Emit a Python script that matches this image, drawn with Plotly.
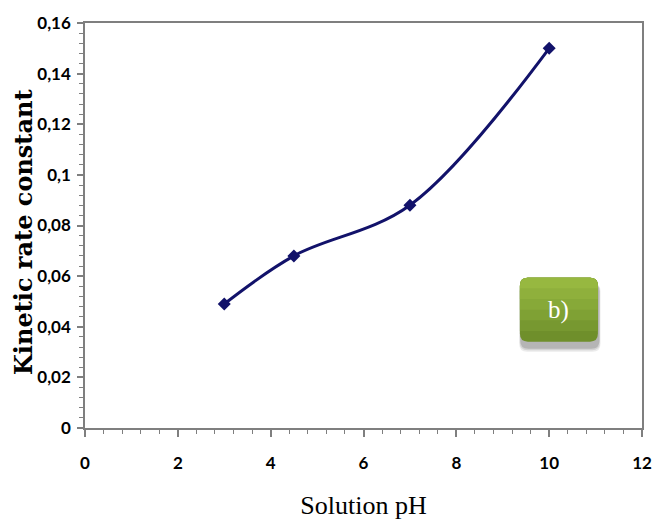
import plotly.graph_objects as go

ph = [3, 4.5, 7, 10]
k = [0.049, 0.068, 0.088, 0.150]
x_ticks = [0, 2, 4, 6, 8, 10, 12]
y_ticks = [0, 0.02, 0.04, 0.06, 0.08, 0.1, 0.12, 0.14, 0.16]
y_labels = ["0", "0,02", "0,04", "0,06", "0,08", "0,1", "0,12", "0,14", "0,16"]
x_title = "Solution pH"
y_title = "Kinetic rate constant"
label_text = "b)"

fig = go.Figure()
fig.add_trace(go.Scatter(
    x=ph, y=k, mode="lines+markers",
    line=dict(color="#12126a", width=3, shape="spline", smoothing=1.0),
    marker=dict(symbol="diamond", size=10, color="#12126a"),
    showlegend=False,
))

axis_col = "#7f7f7f"
tickfont = dict(family="Liberation Sans Narrow, Lato", size=17, color="black", weight="bold")

fig.update_xaxes(
    range=[0, 12], tickvals=x_ticks, ticktext=[str(v) for v in x_ticks],
    automargin=False,
    showgrid=False, zeroline=False, showline=True, linecolor=axis_col, linewidth=1.5,
    mirror=True, ticks="outside", ticklen=7, tickcolor=axis_col, tickwidth=1.5,
    minor=dict(dtick=0.4, ticks="outside", ticklen=4, tickcolor=axis_col, tickwidth=1),
    tickfont=tickfont, ticklabelstandoff=12,
    title=dict(text=x_title, font=dict(family="Liberation Serif", size=26, color="black"), standoff=27),
)
fig.update_yaxes(
    range=[0, 0.16], tickvals=y_ticks, ticktext=y_labels,
    automargin=False,
    showgrid=False, zeroline=False, showline=True, linecolor=axis_col, linewidth=1.5,
    mirror=True, ticks="outside", ticklen=6, tickcolor=axis_col, tickwidth=1.5,
    minor=dict(dtick=0.004, ticks="outside", ticklen=4, tickcolor=axis_col, tickwidth=1),
    tickfont=tickfont, ticklabelstandoff=3,
)
fig.add_annotation(xref="paper", yref="paper", x=(23 - 85) / 557, y=(428 - 232) / 405,
                   xanchor="center", yanchor="middle",
                   text=y_title, textangle=-90, showarrow=False,
                   font=dict(family="DejaVu Serif", size=24, color="black", weight="bold"))

def rrect(x0, y0, x1, y1, rx, ry, round_bottom=True):
    if round_bottom:
        bottom = f"L {x1},{y0+ry} Q {x1},{y0} {x1-rx},{y0} L {x0+rx},{y0} Q {x0},{y0} {x0},{y0+ry} "
    else:
        bottom = f"L {x1},{y0} L {x0},{y0} "
    return (f"M {x0},{y1-ry} Q {x0},{y1} {x0+rx},{y1} L {x1-rx},{y1} Q {x1},{y1} {x1},{y1-ry} "
            + bottom + "Z")

bx0, bx1, by0, by1 = 9.37, 11.05, 0.0341, 0.0594
rx, ry = 0.17, 0.0032
# soft shadow
for i, a in enumerate([0.08, 0.10, 0.14]):
    d = 0.0006 * (3 - i)
    fig.add_shape(type="path",
                  path=rrect(bx0 + 0.02 - d * 20, by0 - 0.0022 - d, bx1 + 0.02 + d * 20, by1 - 0.0022, rx, ry),
                  fillcolor=f"rgba(0,0,0,{a})", line=dict(width=0), layer="above")
# gradient body
cols = ["#6f8f2b", "#779830", "#7fa134", "#87a938", "#8fb03c", "#97b840"]
n = len(cols)
for i, c in enumerate(cols):
    ylow = by0 + (by1 - by0) * i / n
    fig.add_shape(type="path", path=rrect(bx0, ylow, bx1, by1, rx, ry, round_bottom=(i == 0)),
                  fillcolor=c, line=dict(width=0), layer="above")
fig.add_annotation(x=(bx0 + bx1) / 2, y=(by0 + by1) / 2, text=label_text, showarrow=False,
                   font=dict(family="Liberation Serif", size=25, color="white"))

fig.update_layout(
    width=652, height=520, margin=dict(l=85, r=10, t=23, b=92),
    paper_bgcolor="white", plot_bgcolor="white",
)
fig.write_html("out.html")
